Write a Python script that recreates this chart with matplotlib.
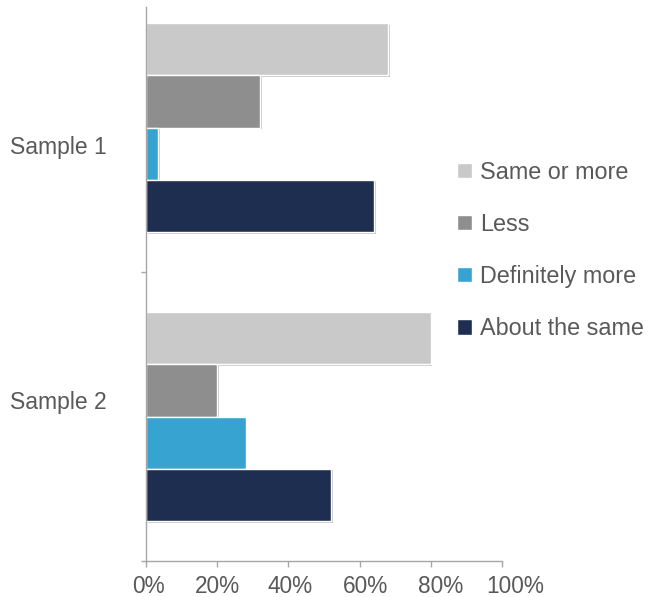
import matplotlib
matplotlib.use("Agg")
import matplotlib.pyplot as plt
import matplotlib.patheffects as pe
import matplotlib.transforms as mtransforms
from matplotlib.patches import Patch
from matplotlib.ticker import FuncFormatter, FixedLocator

plt.rcParams['font.family'] = ['Liberation Sans', 'DejaVu Sans']

categories = ["Sample 1", "Sample 2"]
series = ["Same or more", "Less", "Definitely more", "About the same"]
values = {
    "Same or more":    [68, 80],
    "Less":            [32, 20],
    "Definitely more": [3.5, 28],
    "About the same":  [64, 52],
}
colors = {
    "Same or more":    "#c9c9c9",
    "Less":            "#8e8e8e",
    "Definitely more": "#36a3d1",
    "About the same":  "#1e2e50",
}
xticks = [0, 20, 40, 60, 80, 100]

W, H = 649, 597
fig = plt.figure(figsize=(W / 100, H / 100), dpi=100)
ax = fig.add_axes([146 / W, (H - 561) / H, (502 - 146) / W, (561 - 7) / H])

text_color = "#595959"
axis_color = "#a6a6a6"

bar_h = 0.181
shadow = [pe.SimplePatchShadow(offset=(1.2, -1.2), shadow_rgbFace="#000000", alpha=0.22), pe.Normal()]
for k, s in enumerate(series):
    ys = [i + (k - 1.5) * bar_h for i in range(len(categories))]
    bars = ax.barh(ys, values[s], height=bar_h, color=colors[s], edgecolor="white",
                   linewidth=1.0, zorder=2)
    for b in bars:
        b.set_path_effects(shadow)

ax.set_xlim(0, 100)
ax.set_ylim(1.5, -0.417)
ax.xaxis.set_major_locator(FixedLocator(xticks))
ax.xaxis.set_major_formatter(FuncFormatter(lambda v, p: f"{int(v)}%"))
ax.set_yticks([0.5, 1.5])
ax.set_yticklabels([])

for sp in ["top", "right"]:
    ax.spines[sp].set_visible(False)
for sp in ["left", "bottom"]:
    ax.spines[sp].set_color(axis_color)
    ax.spines[sp].set_linewidth(1.0)
    ax.spines[sp].set_zorder(5)
ax.tick_params(axis="x", colors=axis_color, labelcolor=text_color, labelsize=16.3,
               length=4, width=1.0, pad=6)
ax.tick_params(axis="y", colors=axis_color, length=3.5, width=1.0)
for lbl, dx in zip(ax.get_xticklabels(), [2, 0, 2, 6, 10, 13]):
    lbl.set_transform(lbl.get_transform() + mtransforms.ScaledTranslation(dx / 100, 0, fig.dpi_scale_trans))

# category labels
label_offsets = [0.0675, -0.05]
trans = mtransforms.blended_transform_factory(ax.transAxes, ax.transData)
for i, (c, off) in enumerate(zip(categories, label_offsets)):
    ax.text(-39 / 356, i + off, c, transform=trans, ha="right", va="center",
            fontsize=16.5, color=text_color)

handles = [Patch(facecolor=colors[s], edgecolor="white", label=s) for s in series]
leg = fig.legend(handles=handles, loc="center left", bbox_to_anchor=(448 / W, 1 - 250.5 / H),
                 frameon=False, fontsize=16.8, labelcolor=text_color,
                 handlelength=0.62, handleheight=0.62, handletextpad=0.35,
                 labelspacing=1.25, borderaxespad=0)

fig.savefig("out.png", dpi=100, facecolor="white")
